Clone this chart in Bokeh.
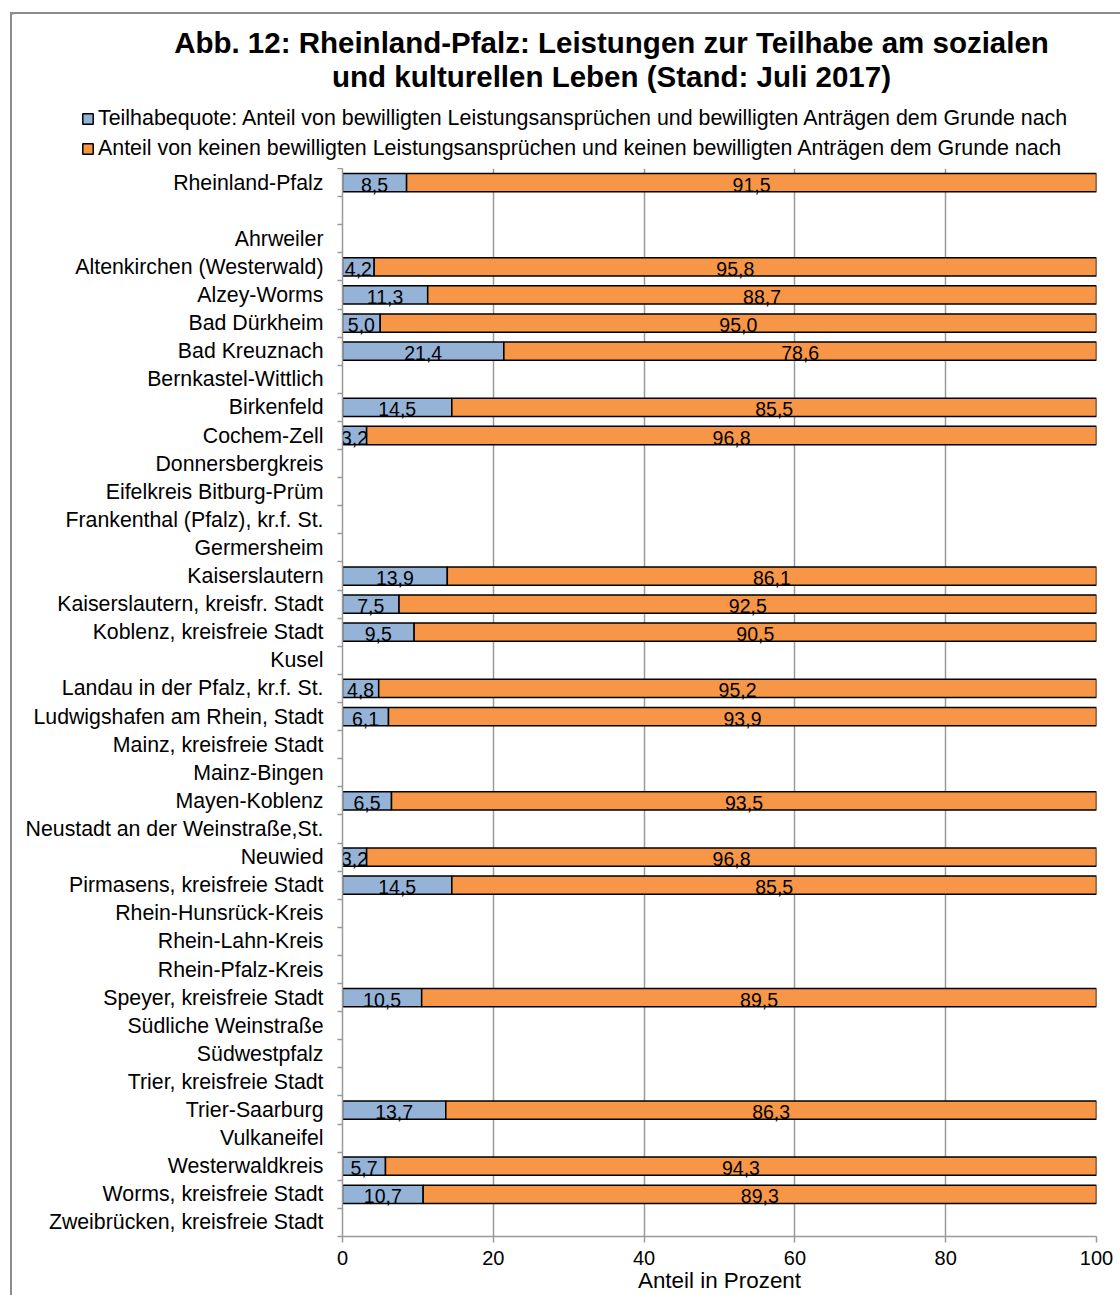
from bokeh.plotting import figure
from bokeh.layouts import column
from bokeh.models import (ColumnDataSource, Range1d, Legend, LegendItem,
                          Label, FixedTicker, LinearAxis)
from bokeh.core.properties import value
from bokeh.embed import file_html
from bokeh.resources import INLINE

# ---------------- data ----------------
categories = [
    "Rheinland-Pfalz", " ", "Ahrweiler", "Altenkirchen (Westerwald)", "Alzey-Worms",
    "Bad Dürkheim", "Bad Kreuznach", "Bernkastel-Wittlich", "Birkenfeld", "Cochem-Zell",
    "Donnersbergkreis", "Eifelkreis Bitburg-Prüm", "Frankenthal (Pfalz), kr.f. St.",
    "Germersheim", "Kaiserslautern", "Kaiserslautern, kreisfr. Stadt",
    "Koblenz, kreisfreie Stadt", "Kusel", "Landau in der Pfalz, kr.f. St.",
    "Ludwigshafen am Rhein, Stadt", "Mainz, kreisfreie Stadt", "Mainz-Bingen",
    "Mayen-Koblenz", "Neustadt an der Weinstraße,St.", "Neuwied",
    "Pirmasens, kreisfreie Stadt", "Rhein-Hunsrück-Kreis", "Rhein-Lahn-Kreis",
    "Rhein-Pfalz-Kreis", "Speyer, kreisfreie Stadt", "Südliche Weinstraße",
    "Südwestpfalz", "Trier, kreisfreie Stadt", "Trier-Saarburg", "Vulkaneifel",
    "Westerwaldkreis", "Worms, kreisfreie Stadt", "Zweibrücken, kreisfreie Stadt",
]
teilhabe = [8.5, None, None, 4.2, 11.3, 5.0, 21.4, None, 14.5, 3.2, None, None, None,
            None, 13.9, 7.5, 9.5, None, 4.8, 6.1, None, None, 6.5, None, 3.2, 14.5,
            None, None, None, 10.5, None, None, None, 13.7, None, 5.7, 10.7, None]
kein = [91.5, None, None, 95.8, 88.7, 95.0, 78.6, None, 85.5, 96.8, None, None, None,
        None, 86.1, 92.5, 90.5, None, 95.2, 93.9, None, None, 93.5, None, 96.8, 85.5,
        None, None, None, 89.5, None, None, None, 86.3, None, 94.3, 89.3, None]
series_names = [
    "Teilhabequote: Anteil von bewilligten Leistungsansprüchen und bewilligten Anträgen dem Grunde nach",
    "Anteil von keinen bewilligten Leistungsansprüchen und keinen bewilligten Anträgen dem Grunde nach",
]
x_ticks = [0, 20, 40, 60, 80, 100]
title_lines = ["Abb. 12: Rheinland-Pfalz: Leistungen zur Teilhabe am sozialen",
               "und kulturellen Leben (Stand: Juli 2017)"]
x_label = "Anteil in Prozent"

# ---------------- sources ----------------
n = len(categories)
centers = [i + 0.5 for i in range(n)]
rows = [(y, a, b) for y, a, b in zip(centers, teilhabe, kein) if a is not None]
src = ColumnDataSource(dict(y=[r[0] for r in rows],
                            teil=[r[1] for r in rows],
                            kein=[r[2] for r in rows]))

def fmt(v):
    return f"{v:.1f}".replace(".", ",")

lab_src = ColumnDataSource(dict(
    y=[r[0] for r in rows] * 2,
    x=[r[1] / 2 for r in rows] + [r[1] + r[2] / 2 for r in rows],
    txt=[fmt(r[1]) for r in rows] + [fmt(r[2]) for r in rows],
))

FONT = "Liberation Sans"
GRID = "#9a9a9a"
BLUE = "#95B3D7"
ORANGE = "#F79646"
COLORS = [BLUE, ORANGE]

W = 1108          # width of both stacked figures
HEAD_H = 154      # header (title + legend) height
FW, FH = 754, 1068

# ---------------- header: title and legend ----------------
head = figure(width=W, height=HEAD_H, x_range=Range1d(0, W), y_range=Range1d(HEAD_H, 0),
              min_border=0, output_backend="svg", toolbar_location=None,
              x_axis_location=None, y_axis_location=None, title=None)
head.outline_line_color = None
head.grid.visible = False
head.border_fill_color = "white"
head.background_fill_color = "white"

for txt, yc in zip(title_lines, [28, 62]):
    head.add_layout(Label(x=599, y=yc, text=txt, text_align="center",
                          text_baseline="middle", text_font=FONT,
                          text_font_size="29.5px", text_font_style="bold",
                          text_color="black"))

# legend-only renderers: a single zero-width bar far outside the header's view,
# so that the legend can draw its coloured swatches
dummy = [head.hbar(y=[-1000], left=[0], right=[0], height=1, fill_color=c,
                   line_color="black", line_width=1.5) for c in COLORS]
legend = Legend(items=[LegendItem(label=s, renderers=[r]) for s, r in zip(series_names, dummy)],
                orientation="vertical", location=(69, 7),
                label_text_font=FONT, label_text_font_size="21.4px",
                label_text_color="black",
                label_height=24, glyph_height=13, glyph_width=13,
                label_standoff=4, spacing=5, padding=0, margin=0,
                border_line_color=None, background_fill_alpha=0)
head.add_layout(legend, "center")

# ---------------- main chart ----------------
p = figure(y_range=Range1d(n, 0), x_range=Range1d(0, 100),
           frame_width=FW, frame_height=FH,
           min_border_left=330, min_border_right=24,
           min_border_top=0, min_border_bottom=59,
           output_backend="svg", toolbar_location=None,
           y_axis_location=None, x_axis_location="below", title=None)
p.outline_line_color = None
p.background_fill_color = "white"
p.border_fill_color = "white"
p.ygrid.visible = False

# the header and the chart have different frames: do not align them
for fig in (head, p):
    if "frame_align" in fig.properties():
        fig.frame_align = False

renderers = p.hbar_stack(["teil", "kein"], y="y", height=0.65, source=src,
                         fill_color=COLORS, line_color="black", line_width=1.5)

p.text(x="x", y="y", text="txt", source=lab_src, text_align="center",
       text_baseline="middle", y_offset=2, text_font=value(FONT),
       text_font_size="19.5px", text_color="black")

# x axis
xa = p.xaxis[0]
xa.ticker = FixedTicker(ticks=x_ticks)
xa.axis_line_color = GRID
xa.axis_line_width = 1.5
xa.major_tick_line_color = GRID
xa.major_tick_line_width = 1.5
xa.major_tick_out = 6
xa.major_tick_in = 0
xa.minor_tick_line_color = None
xa.major_label_text_font = FONT
xa.major_label_text_font_size = "20px"
xa.major_label_text_color = "black"
xa.major_label_standoff = 8
xa.axis_label = x_label
xa.axis_label_text_font = FONT
xa.axis_label_text_font_size = "22.4px"
xa.axis_label_text_font_style = "normal"
xa.axis_label_text_color = "black"
xa.axis_label_standoff = 0

p.xgrid.ticker = FixedTicker(ticks=x_ticks)
p.xgrid.grid_line_color = GRID
p.xgrid.grid_line_width = 1.5

# y axes: inner one with ticks at category boundaries, outer one with the labels
tick_axis = LinearAxis(ticker=FixedTicker(ticks=list(range(n + 1))),
                       major_label_overrides={i: "" for i in range(n + 1)},
                       major_label_standoff=0,
                       axis_line_color=GRID, axis_line_width=1.5,
                       major_tick_line_color=GRID, major_tick_line_width=1.5,
                       major_tick_out=5, major_tick_in=0, minor_tick_line_color=None)
p.add_layout(tick_axis, "left")
label_axis = LinearAxis(ticker=FixedTicker(ticks=centers),
                        major_label_overrides={c: name for c, name in zip(centers, categories)},
                        axis_line_color=None, major_tick_line_color=None,
                        minor_tick_line_color=None,
                        major_tick_out=0, major_tick_in=0,
                        major_label_text_font=FONT,
                        major_label_text_font_size="21.3px",
                        major_label_text_color="black",
                        major_label_standoff=14)
p.add_layout(label_axis, "left")

layout = column(head, p, spacing=0, margin=(12, 0, 0, 10),
                styles={"border-left": "2px solid #8c8c8c",
                        "border-top": "2px solid #8c8c8c"})

open("out.html", "w").write(file_html(layout, INLINE))
